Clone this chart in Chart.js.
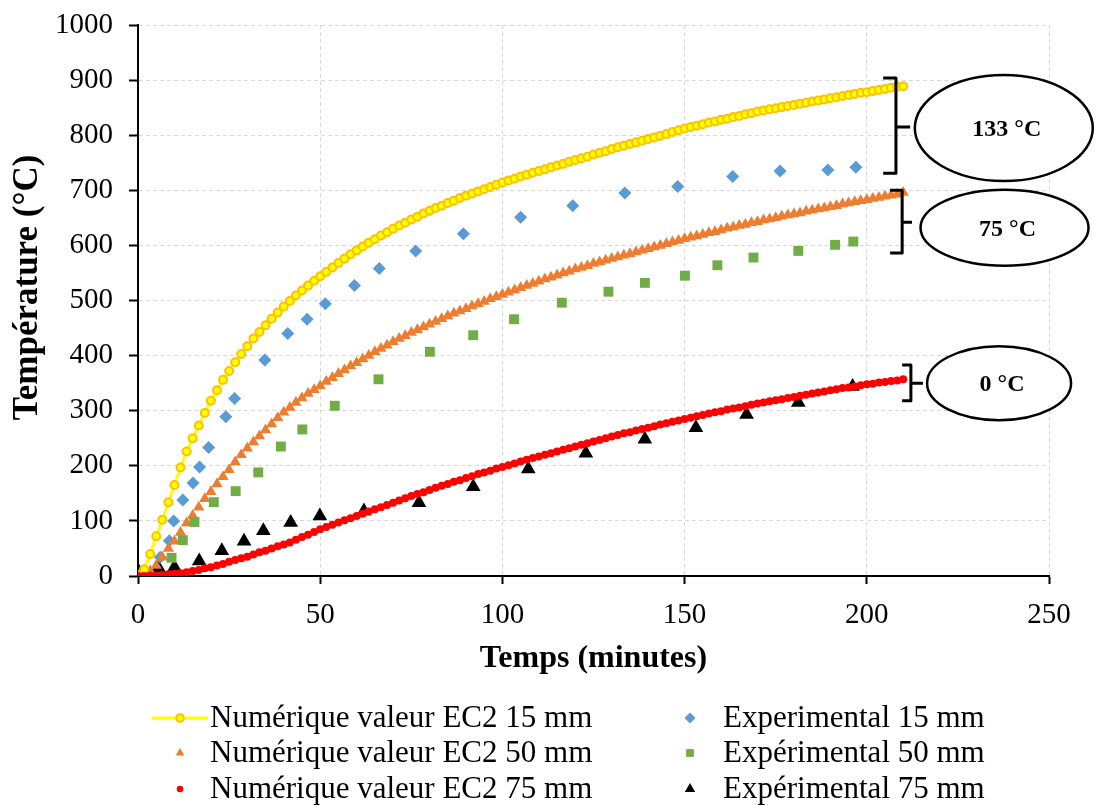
<!DOCTYPE html>
<html>
<head>
<meta charset="utf-8">
<script src="https://cdn.jsdelivr.net/npm/chart.js@4.4.1/dist/chart.umd.min.js"></script>
<style>
  html, body { margin: 0; padding: 0; background: #fff; }
  canvas { display: block; }
</style>
</head>
<body>
<canvas id="chart" width="1096" height="805"></canvas>
<script>
// simulation output every 100 s
var simTimeSec = [0,100,200,300,400,500,600,700,800,900,1000,1100,1200,1300,1400,1500,1600,1700,1800,1900,
  2000,2100,2200,2300,2400,2500,2600,2700,2800,2900,3000,3100,3200,3300,3400,3500,3600,3700,3800,3900,
  4000,4100,4200,4300,4400,4500,4600,4700,4800,4900,5000,5100,5200,5300,5400,5500,5600,5700,5800,5900,
  6000,6100,6200,6300,6400,6500,6600,6700,6800,6900,7000,7100,7200,7300,7400,7500,7600,7700,7800,7900,
  8000,8100,8200,8300,8400,8500,8600,8700,8800,8900,9000,9100,9200,9300,9400,9500,9600,9700,9800,9900,
  10000,10100,10200,10300,10400,10500,10600,10700,10800,10900,11000,11100,11200,11300,11400,11500,11600,11700,11800,11900,
  12000,12100,12200,12300,12400,12500,12600];

var ec2_15mm = [0,12,40,72,102,134,165,197,226,250,273,296,318,337,356,372,388,403,417,431,
  443,455,467,478,489,499,509,518,527,536,544,552,560,568,576,584,591,598,605,611,
  618,624,630,636,641,647,652,658,663,668,672,677,681,686,690,694,698,702,706,710,
  714,718,721,725,728,732,735,738,742,745,748,752,755,758,761,765,768,771,775,778,
  781,784,787,790,793,796,799,802,806,809,812,815,817,820,823,825,828,830,833,835,
  838,840,843,845,847,849,851,853,855,857,859,861,863,865,867,869,871,873,875,877,
  878,880,882,884,886,888,889];

var ec2_50mm = [0,3,9,19,34,50,63,79,96,110,125,140,153,167,180,193,207,220,232,243,
  254,265,276,287,297,306,315,323,331,338,345,353,360,367,374,381,387,394,400,407,
  413,419,425,431,436,442,447,452,457,462,467,472,477,481,485,490,494,498,503,507,
  511,515,519,523,527,531,535,539,542,546,550,553,557,560,563,567,570,573,576,579,
  582,585,588,591,594,597,600,603,606,609,612,615,617,620,623,625,628,631,633,636,
  638,641,643,646,648,650,653,655,657,659,662,664,666,668,670,672,675,677,679,681,
  683,685,687,689,691,693,696];

var ec2_75mm = [0,0,1,1,2,3,4,5,7,9,11,14,16,19,22,26,29,32,35,39,
  43,46,50,54,57,61,66,71,75,80,85,89,93,97,101,105,109,113,117,121,
  125,129,133,137,141,145,149,152,156,160,164,167,171,174,178,181,185,188,191,195,
  198,201,204,208,211,214,217,220,223,226,229,232,235,238,241,244,247,250,253,256,
  259,261,264,267,269,272,275,277,280,282,285,287,290,292,295,297,299,302,304,306,
  308,311,313,315,317,319,321,323,325,327,329,331,333,335,337,339,341,342,344,346,
  348,349,351,352,354,355,357];

var exp15Time = [1.7,6.1,8.6,9.8,12.3,15.1,16.9,19.4,24.1,26.5,34.8,41.1,46.4,51.4,59.4,66.2,76.2,89.3,105,119.3,133.6,148.1,163.2,176.2,189.3,197];
var exp15Temp = [10,34,64,100,138,169,198,233,289,322,392,440,466,494,527,558,590,621,651,672,695,707,725,735,737,742];

var exp50Time = [0,9.2,12.3,15.5,20.8,26.8,33,39.2,45.1,54,66,80.1,92,103.2,116.3,129.1,139.1,150.1,159,168.9,181.2,191.3,196.3];
var exp50Temp = [0,33,65,98,134,154,188,235,266,309,357,407,437,466,496,516,532,545,564,578,590,601,607];

var exp75Time = [0,5.6,10,16.8,23,29.1,34.4,41.9,49.9,62,77.1,92,107.1,122.9,139.1,153.1,167,181.2,196.1];
var exp75Temp = [10,15,16,27,46,63,82,97,109,118,133,162,194,223,248,269,293,315,344];

var xTicks = [0, 50, 100, 150, 200, 250];
var yTicks = [0, 100, 200, 300, 400, 500, 600, 700, 800, 900, 1000];

var FONT = "'Liberation Serif', 'Times New Roman', serif";

function pairs(xs, ys, div) {
  return xs.map(function (v, i) { return { x: div ? v / div : v, y: ys[i] }; });
}

var datasets = [
  { label: 'Numérique valeur EC2 15 mm', data: pairs(simTimeSec, ec2_15mm, 60), showLine: true,
    borderColor: '#FFFF00', borderWidth: 3, pointStyle: 'circle', pointRadius: 4, pointBorderWidth: 2,
    pointBackgroundColor: '#FFFF00', pointBorderColor: '#FFC000', order: 2, legendPos: [0, 0], legendR: 3.8 },
  { label: 'Experimental 15 mm', data: pairs(exp15Time, exp15Temp), showLine: false,
    pointStyle: 'rectRot', pointRadius: 6.5, pointBorderWidth: 0,
    pointBackgroundColor: '#5B9BD5', pointBorderColor: '#5B9BD5', order: 5, legendPos: [1, 0], legendR: 5.5 },
  { label: 'Numérique valeur EC2 50 mm', data: pairs(simTimeSec, ec2_50mm, 60), showLine: false,
    pointStyle: 'triangle', pointRadius: 6.5, pointBorderWidth: 0,
    pointBackgroundColor: '#ED7D31', pointBorderColor: '#ED7D31', order: 4, legendPos: [0, 1], legendR: 5 },
  { label: 'Expérimental 50 mm', data: pairs(exp50Time, exp50Temp), showLine: false,
    pointStyle: 'rect', pointRadius: 7, pointBorderWidth: 0,
    pointBackgroundColor: '#70AD47', pointBorderColor: '#70AD47', order: 3, legendPos: [1, 1], legendR: 5.5 },
  { label: 'Numérique valeur EC2 75 mm', data: pairs(simTimeSec, ec2_75mm, 60), showLine: false,
    pointStyle: 'circle', pointRadius: 4, pointBorderWidth: 0,
    pointBackgroundColor: '#FF0000', pointBorderColor: '#FF0000', order: 1, legendPos: [0, 2], legendR: 3.3 },
  { label: 'Expérimental 75 mm', data: pairs(exp75Time, exp75Temp), showLine: false,
    pointStyle: 'triangle', pointRadius: 8.5, pointBorderWidth: 0,
    pointBackgroundColor: '#000000', pointBorderColor: '#000000', order: 6, legendPos: [1, 2], legendR: 6 }
];

// brackets + ellipses on the right (placed in data units)
var notes = [
  { text: '133 °C', bx0: 204.5, bx1: 208, btop: 904, bbot: 731, tipX: 211.9, midY: 815, cx: 237.6, cy: 813, rx: 89, ry: 53 },
  { text: '75 °C', bx0: 206.4, bx1: 209.7, btop: 700, bbot: 586, tipX: 212.4, midY: 642, cx: 237.8, cy: 632, rx: 84, ry: 38 },
  { text: '0 °C', bx0: 209.7, bx1: 212.1, btop: 383, bbot: 318, tipX: 215.4, midY: 350, cx: 236.3, cy: 350, rx: 72, ry: 37 }
];

var extras = {
  id: 'extras',
  afterDraw: function (chart) {
    var ctx = chart.ctx, xs = chart.scales.x, ys = chart.scales.y, area = chart.chartArea;
    ctx.save();
    // annotations
    notes.forEach(function (n) {
      var x0 = xs.getPixelForValue(n.bx0), x1 = xs.getPixelForValue(n.bx1);
      var yt = ys.getPixelForValue(n.btop), yb = ys.getPixelForValue(n.bbot);
      var ym = ys.getPixelForValue(n.midY), xt = xs.getPixelForValue(n.tipX);
      ctx.strokeStyle = '#000';
      ctx.lineWidth = 3;
      ctx.lineJoin = 'round';
      ctx.beginPath();
      ctx.moveTo(x0, yt); ctx.lineTo(x1, yt); ctx.lineTo(x1, yb); ctx.lineTo(x0, yb);
      ctx.moveTo(x1, ym); ctx.lineTo(xt, ym);
      ctx.stroke();
      var cx = xs.getPixelForValue(n.cx), cy = ys.getPixelForValue(n.cy);
      ctx.beginPath();
      ctx.ellipse(cx, cy, n.rx, n.ry, 0, 0, Math.PI * 2);
      ctx.fillStyle = '#fff';
      ctx.fill();
      ctx.lineWidth = 2.5;
      ctx.stroke();
      ctx.fillStyle = '#000';
      ctx.font = 'bold 24px ' + FONT;
      ctx.textAlign = 'center';
      ctx.textBaseline = 'middle';
      ctx.fillText(n.text, cx + 3, cy + 2);
    });

    // y axis title
    ctx.save();
    ctx.translate(28, (area.top + area.bottom) / 2 - 13);
    ctx.rotate(-Math.PI / 2);
    ctx.font = 'bold 35px ' + FONT;
    ctx.fillStyle = '#000';
    ctx.textAlign = 'center';
    ctx.textBaseline = 'middle';
    ctx.fillText('Température (°C)', 0, 0);
    ctx.restore();

    // legend, two columns
    var colX = [180, 690], textX = [210, 723];
    var rowY = [area.bottom + 142, area.bottom + 177, area.bottom + 213];
    ctx.font = '31px ' + FONT;
    ctx.textAlign = 'left';
    ctx.textBaseline = 'middle';
    chart.data.datasets.forEach(function (ds) {
      var c = ds.legendPos[0], r = ds.legendPos[1];
      var mx = colX[c], my = rowY[r];
      if (ds.showLine) {
        ctx.strokeStyle = ds.borderColor;
        ctx.lineWidth = ds.borderWidth;
        ctx.beginPath();
        ctx.moveTo(mx - 28, my); ctx.lineTo(mx + 28, my);
        ctx.stroke();
      }
      ctx.fillStyle = ds.pointBackgroundColor;
      ctx.strokeStyle = ds.pointBorderColor;
      ctx.lineWidth = ds.pointBorderWidth;
      Chart.helpers.drawPoint(ctx, { pointStyle: ds.pointStyle, radius: ds.legendR, rotation: 0, borderWidth: ds.pointBorderWidth }, mx, my);
      ctx.fillStyle = '#000';
      ctx.fillText(ds.label, textX[c], my + 1);
    });
    ctx.restore();
  }
};

var tickFont = { family: FONT, size: 29 };
var titleFont = { family: FONT, size: 32, weight: 'bold' };

new Chart(document.getElementById('chart'), {
  type: 'scatter',
  data: { datasets: datasets },
  options: {
    responsive: false,
    animation: false,
    devicePixelRatio: 1,
    layout: { padding: { top: 25, right: 47, bottom: 119, left: 0 } },
    plugins: { legend: { display: false }, tooltip: { enabled: false } },
    scales: {
      x: {
        type: 'linear', min: 0, max: 250,
        afterBuildTicks: function (s) { s.ticks = xTicks.map(function (v) { return { value: v }; }); },
        afterFit: function (s) { s.height = 110; s.paddingLeft = 0; s.paddingRight = 0; },
        ticks: { font: tickFont, color: '#000', padding: 14, maxRotation: 0,
                 callback: function (v) { return String(v); } },
        grid: { color: '#d9d9d9', tickColor: '#000', tickLength: 8, tickWidth: 2, lineWidth: 1 },
        border: { color: '#000', width: 2, dash: [4, 3] },
        title: { display: true, text: 'Temps (minutes)', font: titleFont, color: '#000', padding: { top: 0, bottom: 8 } }
      },
      y: {
        type: 'linear', min: 0, max: 1000,
        afterBuildTicks: function (s) { s.ticks = yTicks.map(function (v) { return { value: v }; }); },
        afterFit: function (s) { s.width = 138; s.paddingTop = 0; s.paddingBottom = 0; },
        ticks: { font: tickFont, color: '#000', padding: 16,
                 callback: function (v) { return String(v); } },
        grid: { color: '#d9d9d9', tickColor: '#000', tickLength: 9, tickWidth: 2, lineWidth: 1 },
        border: { color: '#000', width: 2, dash: [4, 3] },
        title: { display: false }
      }
    }
  },
  plugins: [extras]
});
</script>
</body>
</html>
